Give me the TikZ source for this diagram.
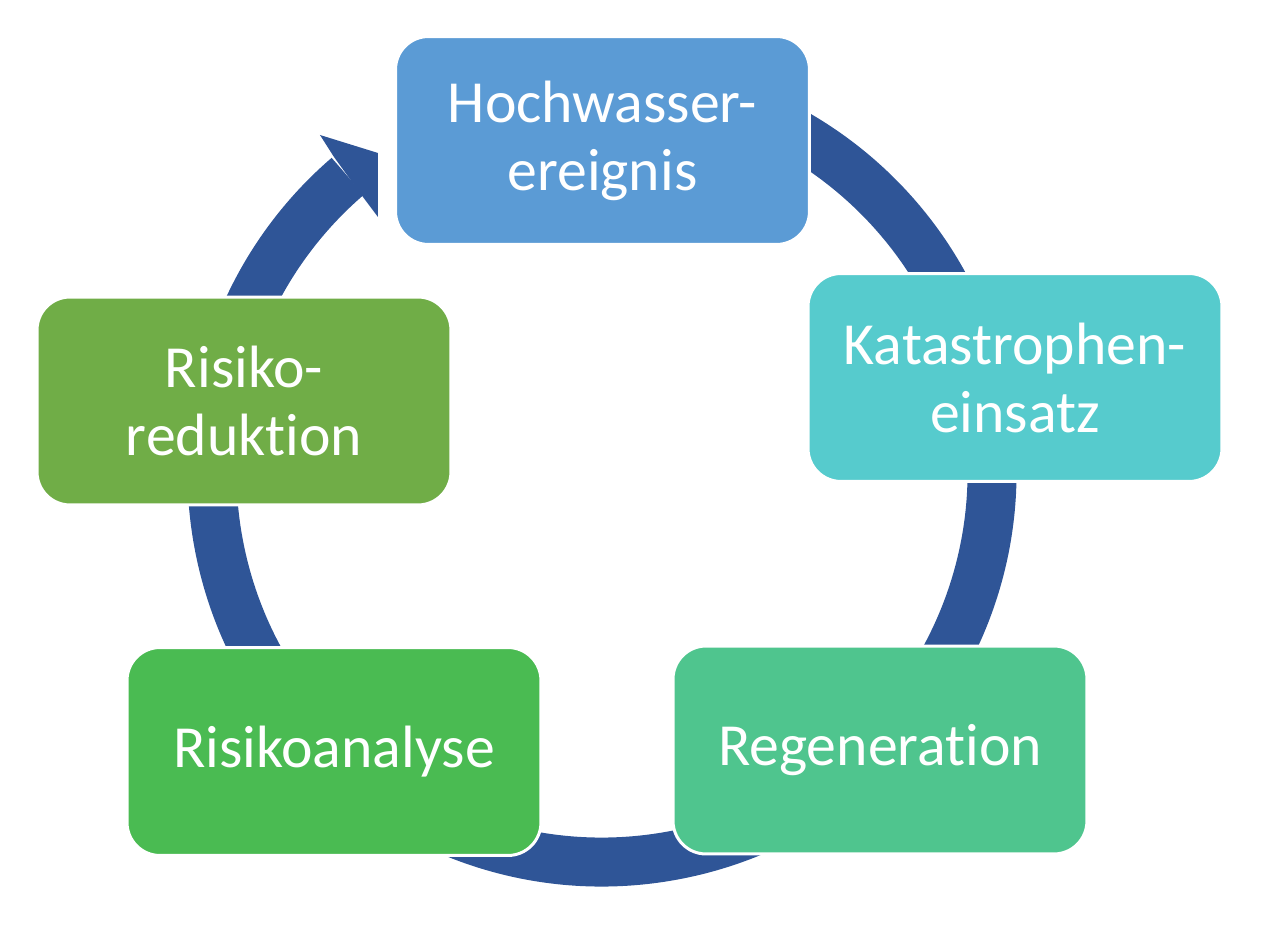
\documentclass[tikz,border=0pt]{standalone}
\usepackage{fontspec}
\setmainfont{Carlito}[Ligatures={NoCommon}]
\usetikzlibrary{positioning}
\definecolor{ringblau}{HTML}{2F5597}
\definecolor{hochblau}{HTML}{5B9BD5}
\definecolor{kattuerkis}{HTML}{56CBCD}
\definecolor{reggruen}{HTML}{4FC58E}
\definecolor{anagruen}{HTML}{4ABB52}
\definecolor{redgruen}{HTML}{70AD47}
\tikzset{
	ring/.style={draw=ringblau,line width=0.98cm},
	phase/.style={rounded corners=0.66cm,draw=white,line width=0.06cm,
		minimum width=8.28cm,minimum height=4.16cm,align=center,text=white,
		font=\fontsize{34}{38.7}\selectfont}
}

\begin{document}
\begin{tikzpicture}[x=0.02cm,y=0.02cm]
	\useasboundingbox (-602,472) rectangle (667,-454);
	\draw [ring] (100:390) arc [start angle=100, end angle=-229.3, radius=390];
	\coordinate (barb) at (-282,337);
	\coordinate (tip) at (-224,319);
	\coordinate (cut) at (-224,255);
	\coordinate (inner) at (-239,275);
	\coordinate (outer) at (-268,315);
	\fill [ringblau] (barb) -- (tip) -- (cut) -- (inner) -- (outer) -- cycle;
	\begin{scope}[every node/.style={phase}]
	\node [fill=hochblau] (hoch) at (0.5,331.5) {Hochwasser-\\ereignis};
	\node [fill=kattuerkis] (kat) at (413,94.5) {Katastrophen-\\einsatz};
	\node [fill=reggruen] (reg) at (278,-278) {Regeneration};
	\node [fill=anagruen] (ana) at (-268,-279.5) {Risikoanalyse};
	\node [fill=redgruen] (red) at (-358,71) {Risiko-\\reduktion};
	\end{scope}
\end{tikzpicture}
\end{document}
